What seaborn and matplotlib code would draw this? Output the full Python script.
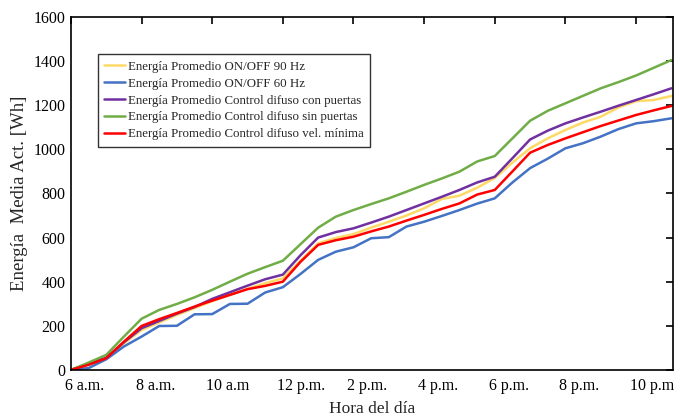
import pandas as pd
import seaborn as sns
import matplotlib.pyplot as plt
from matplotlib.transforms import ScaledTranslation

sns.set_theme(style="white")
plt.rcParams['font.family'] = ['Liberation Serif', 'DejaVu Serif']

# hora del dia (cada media hora)
horas = [6, 6.5, 7, 7.5, 8, 8.5, 9, 9.5, 10, 10.5, 11, 11.5, 12, 12.5, 13, 13.5, 14, 14.5,
         15, 15.5, 16, 16.5, 17, 17.5, 18, 18.5, 19, 19.5, 20, 20.5, 21, 21.5, 22, 22.5, 23]

on_off_90 = [0, 25, 52, 120, 181, 215, 249, 280, 312, 340, 368, 393, 415, 495, 574, 598, 616, 645,
             672, 700, 733, 775, 790, 826, 870, 940, 1005, 1050, 1088, 1122, 1148, 1190, 1219, 1224, 1242]
on_off_60 = [0, 8, 48, 106, 151, 199, 200, 252, 253, 299, 300, 351, 375, 435, 499, 536, 556, 597,
             602, 650, 672, 698, 725, 754, 778, 850, 915, 958, 1005, 1028, 1058, 1092, 1118, 1128, 1141]
difuso_con = [0, 28, 55, 125, 189, 222, 255, 285, 322, 352, 382, 411, 432, 520, 600, 625, 642, 668,
              695, 725, 755, 785, 816, 850, 876, 960, 1045, 1085, 1118, 1145, 1171, 1198, 1224, 1250, 1277]
difuso_sin = [0, 33, 68, 151, 232, 272, 299, 329, 363, 400, 436, 466, 495, 570, 645, 695, 725, 752,
              778, 808, 839, 868, 899, 945, 970, 1050, 1130, 1175, 1209, 1243, 1277, 1305, 1335, 1370, 1405]
difuso_vel = [0, 23, 53, 128, 199, 230, 258, 287, 314, 340, 366, 381, 400, 490, 567, 588, 604, 628,
              650, 677, 703, 730, 755, 795, 816, 900, 985, 1020, 1050, 1078, 1106, 1131, 1156, 1177, 1197]

nombres = ["Energía Promedio ON/OFF 90 Hz",
           "Energía Promedio ON/OFF 60 Hz",
           "Energía Promedio Control difuso con puertas",
           "Energía Promedio Control difuso sin puertas",
           "Energía Promedio Control difuso vel. mínima"]
colores = ["#FFD966", "#4472C4", "#7030A0", "#70AD47", "#FF0000"]

tick_pos = [6, 8, 10, 12, 14, 16, 18, 20, 22]
tick_lab = ["6 a.m.", "8 a.m.", "10 a.m", "12 p.m.", "2 p.m.", "4 p.m.", "6 p.m.", "8 p.m.", "10 p.m"]

series = [on_off_90, on_off_60, difuso_con, difuso_sin, difuso_vel]
df = pd.concat([pd.DataFrame({'hora': horas, 'energia': s, 'serie': n}) for s, n in zip(series, nombres)])

fig = plt.figure(figsize=(6.82, 4.17), dpi=100)
ax = fig.add_axes([0.104, 0.113, 0.883, 0.846])
sns.lineplot(data=df, x='hora', y='energia', hue='serie', palette=dict(zip(nombres, colores)),
             linewidth=1.8, ax=ax)

ax.set_xlim(6, 23.05)
ax.set_ylim(0, 1600)
ax.set_xticks(tick_pos)
ax.set_xticklabels(tick_lab)
ax.set_yticks(range(0, 1601, 200))
ax.tick_params(direction='in', length=5, width=1.2, top=True, right=True, labelsize=11.5,
               colors='black', pad=4)
ax.tick_params(axis='x', pad=6)
# etiquetas del eje x casi alineadas a la izquierda del tick
off = ScaledTranslation(-0.06, 0, fig.dpi_scale_trans)
for lab in ax.get_xticklabels():
    lab.set_horizontalalignment('left')
    lab.set_transform(lab.get_transform() + off)
for sp in ax.spines.values():
    sp.set_color('black')
    sp.set_linewidth(1.2)
ax.set_xlabel("Hora del día", fontsize=12.5, labelpad=5)
ax.set_ylabel("Energía  Media Act. [Wh]", fontsize=13.5, labelpad=4)

h, l = ax.get_legend_handles_labels()
leg = ax.legend(h, l, loc='upper left', bbox_to_anchor=(0.045, 0.895), borderaxespad=0,
                fontsize=9.3, handlelength=1.6, handletextpad=0.2, labelspacing=0.38,
                fancybox=False, framealpha=1, edgecolor='#333333', borderpad=0.5)
leg.get_frame().set_linewidth(1.0)

fig.savefig("out.png", dpi=100)
